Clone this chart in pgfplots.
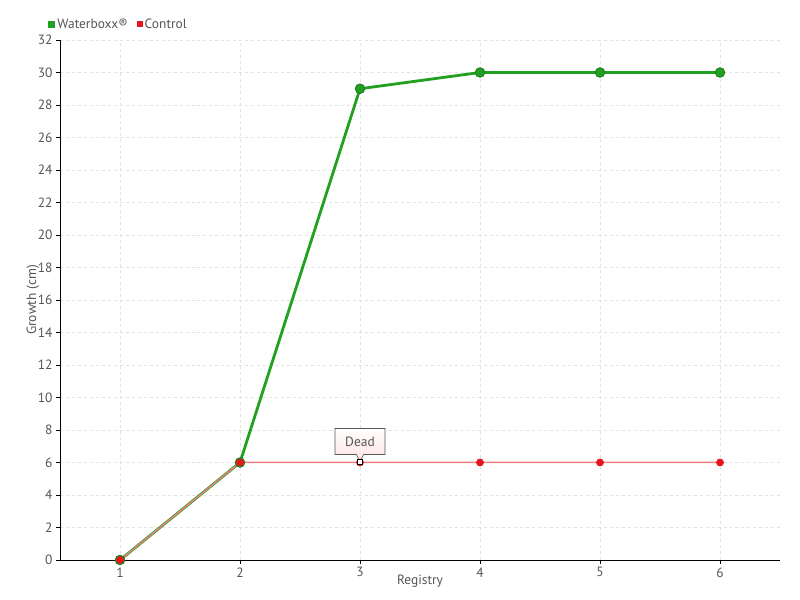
\documentclass[border=0pt]{standalone}
\usepackage{pgfplots}
\pgfplotsset{compat=1.18}
\usepackage{fontspec}
\setmainfont{PT Sans}
\usetikzlibrary{shapes.callouts}
\definecolor{wgreen}{HTML}{22A022}
\definecolor{wgreendk}{HTML}{1A7A1A}
\definecolor{cred}{HTML}{E8141E}
\definecolor{cline}{HTML}{F08080}
\definecolor{txt}{HTML}{555555}
\definecolor{gridc}{HTML}{E2E2E2}
\begin{document}
\begin{tikzpicture}[x=1bp,y=1bp]
\useasboundingbox (0,0) rectangle (800,600);
\begin{axis}[
  at={(60bp,40bp)}, anchor=south west,
  scale only axis, width=720bp, height=520bp,
  xmin=0.5, xmax=6.5, ymin=0, ymax=32,
  xtick={1,2,3,4,5,6}, ytick={0,2,...,32},
  axis x line*=bottom, axis y line*=left,
  axis line style={black, line width=0.8bp},
  tick align=outside, major tick length=4bp,
  tick style={black, line width=0.8bp},
  grid=major, major grid style={gridc, dashed, line width=0.8bp},
  ticklabel style={font=\fontsize{13.5}{15}\selectfont, text=txt},
  /pgf/number format/assume math mode=true,
  xlabel={Registry}, ylabel={Growth (cm)},
  label style={font=\fontsize{13.5}{15}\selectfont, text=txt},
  xlabel style={yshift=9bp},
  ylabel style={yshift=-8bp},
  legend columns=2,
  legend style={at={(rel axis cs:0,1)}, anchor=south west, xshift=-15bp, yshift=6bp,
    draw=none, fill=none, font=\fontsize{13.5}{15}\selectfont, text=txt,
    /tikz/every even column/.append style={column sep=7bp}},
  legend cell align=left,
]
\addplot[wgreen, line width=2.8bp, mark=*, mark size=4.8bp,
  mark options={fill=wgreen, draw=wgreendk, line width=0.8bp},
  legend image code/.code={\fill[wgreen] (0bp,-2.2bp) rectangle (4.5bp,2.2bp);}]
  coordinates {(1,0) (2,6) (3,29) (4,30) (5,30) (6,30)};
\addlegendentry{Waterboxx®}
\addplot[cline, line width=1.5bp, mark=*, mark size=3.6bp,
  mark options={fill=cred, draw=cred, line width=0.5bp},
  legend image code/.code={\fill[cred] (0bp,-2.2bp) rectangle (4.5bp,2.2bp);}]
  coordinates {(1,0) (2,6) (3,6) (4,6) (5,6) (6,6)};
\addlegendentry{Control}
\addplot[only marks, mark=square*, mark size=2.5bp,
  mark options={fill=white, draw=black, line width=1bp}, forget plot]
  coordinates {(3,6)};
\node[rectangle callout, draw=txt, line width=0.6bp,
  top color=white, bottom color=red!12,
  font=\fontsize{13.5}{15}\selectfont, text=txt,
  minimum width=50bp, minimum height=26bp, inner sep=2bp,
  callout absolute pointer={(axis cs:3,6)}]
  at ([yshift=21bp]axis cs:3,6) {Dead};
\end{axis}
\end{tikzpicture}
\end{document}
